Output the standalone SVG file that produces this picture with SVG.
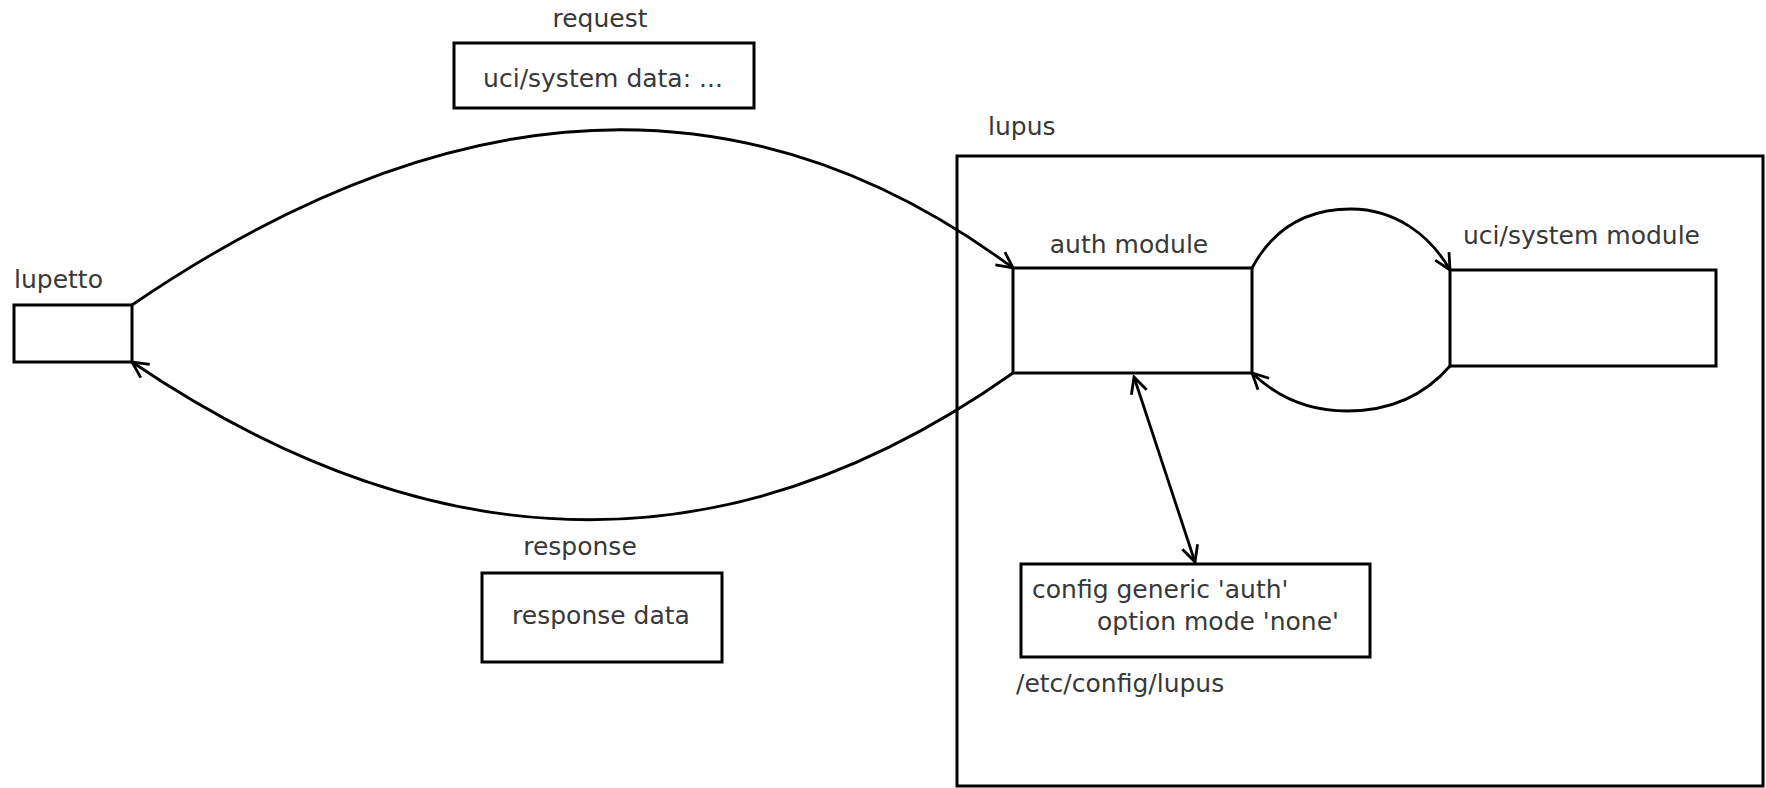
<svg xmlns="http://www.w3.org/2000/svg" width="1766" height="788" viewBox="0 0 1766 788">
<style>
.box{fill:#fff;stroke:#000;stroke-width:3}
.t{font-family:"DejaVu Sans",sans-serif;font-size:25px;fill:#383838}
.c{fill:none;stroke:#000;stroke-width:2.8}
</style>
<defs>
<marker id="ah" viewBox="0 0 20 20" refX="18" refY="10" markerWidth="20" markerHeight="20" markerUnits="userSpaceOnUse" orient="auto-start-reverse">
<path d="M2,2 L18,10 L2,18" fill="none" stroke="#000" stroke-width="2.8"/>
</marker>
</defs>
<rect width="1766" height="788" fill="#fff"/>
<g id="lupus">
<rect class="box" x="957" y="156" width="806" height="630"/>
<text class="t" x="988" y="135">lupus</text>
</g>
<g id="connectors">
<path class="c" d="M132,305 Q617,-26 1013,268" marker-end="url(#ah)"/>
<path class="c" d="M1013,373 Q590,672 132,362" marker-end="url(#ah)"/>
<path class="c" d="M1252,268 C1275,225 1310,209 1351,209 C1395,209 1430,235 1450,270" marker-end="url(#ah)"/>
<path class="c" d="M1450,366 C1425,395 1390,411 1347,411 C1305,411 1275,395 1252,373" marker-end="url(#ah)"/>
<path class="c" d="M1134,377 L1195,562" marker-start="url(#ah)" marker-end="url(#ah)"/>
</g>
<g id="lupetto">
<rect class="box" x="14" y="305" width="118" height="57"/>
<text class="t" x="14" y="288">lupetto</text>
</g>
<g id="request">
<text class="t" x="600" y="27" text-anchor="middle">request</text>
<rect class="box" x="454" y="43" width="300" height="65"/>
<text class="t" x="603" y="87" text-anchor="middle">uci/system data: ...</text>
</g>
<g id="response">
<text class="t" x="580" y="555" text-anchor="middle">response</text>
<rect class="box" x="482" y="573" width="240" height="89"/>
<text class="t" x="601" y="624" text-anchor="middle">response data</text>
</g>
<g id="auth">
<text class="t" x="1129" y="253" text-anchor="middle">auth module</text>
<rect class="box" x="1013" y="268" width="239" height="105"/>
</g>
<g id="uci">
<text class="t" x="1463" y="244">uci/system module</text>
<rect class="box" x="1450" y="270" width="266" height="96"/>
</g>
<g id="config">
<rect class="box" x="1021" y="564" width="349" height="93"/>
<text class="t" x="1032" y="598">config generic 'auth'</text>
<text class="t" x="1097" y="630">option mode 'none'</text>
<text class="t" x="1016" y="692">/etc/config/lupus</text>
</g>
</svg>
